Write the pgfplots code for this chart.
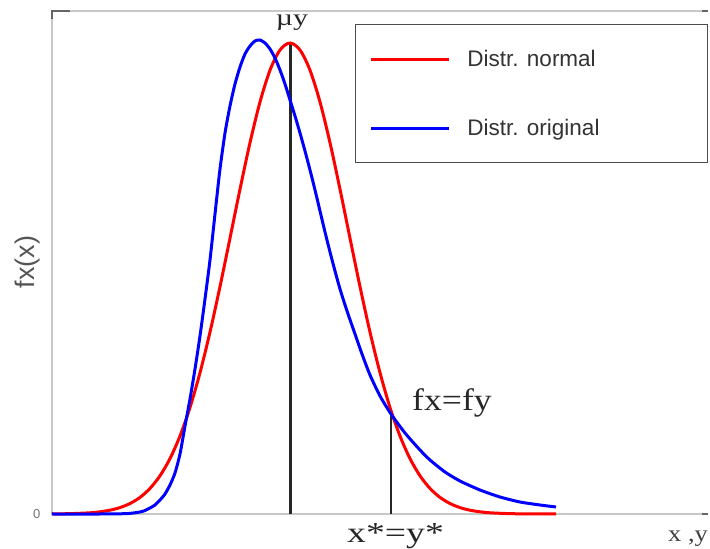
\documentclass[border=0pt]{standalone}
\usepackage{pgfplots}
\pgfplotsset{compat=1.18}
\usepackage{fontspec}
\setmainfont{Liberation Serif}
\newfontfamily\arial{Liberation Sans}
\definecolor{axgray}{HTML}{C8C8C8}
\definecolor{txtgray}{HTML}{555555}
\begin{document}
\begin{tikzpicture}[x=1pt,y=1pt]
\useasboundingbox (0,0) rectangle (710,549);
\begin{axis}[
  at={(52,35)}, anchor=south west,
  scale only axis, width=656pt, height=503pt,
  xmin=52, xmax=708, ymin=0, ymax=503,
  axis line style={draw=none},
  xtick=\empty, ytick={0}, major tick length=0pt,
  /pgf/number format/assume math mode=true,
  yticklabel style={font=\arial\fontsize{13}{13}\selectfont, text=black!55, xshift=-8pt},
  clip=false,
  legend style={at={(axis cs:708,490)}, anchor=north east,
    draw=black!70, line width=1.2pt, fill=white,
    font=\arial\fontsize{22.5}{22.5}\selectfont, text=black!80,
    inner xsep=14pt, inner ysep=23pt, row sep=46pt, column sep=17pt,
    nodes={inner sep=0pt, text height=19pt, text depth=4pt}},
  legend cell align=left,
  legend image code/.code={\draw[#1, line width=3pt] (0pt,0pt) -- (78pt,0pt);},
]
% axis frame lines (left, top, bottom)
\draw[axgray, line width=2pt] (axis cs:708,503) -- (axis cs:52,503) -- (axis cs:52,0) -- (axis cs:708,0);
\draw[black!60, line width=2pt] (axis cs:52,495) -- (axis cs:52,503) -- (axis cs:70,503);
\draw[black!60, line width=2pt] (axis cs:702,503) -- (axis cs:708,503);
\draw[black!60, line width=2pt] (axis cs:702,0) -- (axis cs:708,0);

% vertical reference lines
\addplot[black!85, line width=3pt, forget plot] coordinates {(290,0) (290,471)};
\addplot[black!85, line width=1.2pt, forget plot] coordinates {(391,0) (391,100)};

% normal distribution
\addplot[red, line width=3pt, smooth] coordinates {
(52,0.1) (70,0.35) (90,1.2) (100,2.2) (110,3.8) (120,6.4) (130,10.5) (140,16.6)
(150,25.6) (160,38.2) (170,55.4) (180,78.0) (190,106.5) (200,141.3) (210,181.9)
(220,227.4) (230,275.8) (240,324.8) (250,371.3) (260,412.0) (270,443.8) (280,464.0)
(290,471) (300,464.0) (310,443.8) (320,412.0) (330,371.3) (340,324.8) (350,275.8)
(360,227.4) (370,181.9) (380,141.3) (390,106.5) (400,78.0) (410,55.4) (420,38.2)
(430,25.6) (440,16.6) (450,10.5) (460,6.4) (470,3.8) (480,2.2) (490,1.2) (510,0.35)
(530,0.1) (556,0.0)};
\addlegendentry{\makebox[226pt][l]{Distr. normal}}

% original distribution
\addplot[blue, line width=3pt, smooth, tension=0.4] coordinates {
(52,0) (100,0) (120,0.2) (130,0.6) (140,2) (145,3.5) (150,6) (155,9) (160,14)
(165,20) (170,29) (175,41) (180,60) (185,88) (190,115) (195,145) (200,178)
(205,215) (210,254) (215,300) (220,345) (225,381) (230,408) (235,430) (240,447)
(245,460) (250,468) (255,473) (260,474) (265,471) (270,465) (275,456) (280,444)
(285,430) (290,414) (295,398) (300,381) (305,363) (310,344) (315,324) (320,303)
(325,282) (330,262) (335,243) (340,225) (347,203) (355,180) (362,160) (370,139)
(380,118) (391,100) (405,81) (420,64) (430,54) (445,42) (460,33) (480,24)
(500,17) (520,12) (540,9) (556,7)};
\addlegendentry{\makebox[226pt][l]{Distr. original}}

% labels
\node[anchor=base, inner sep=0pt, text=black!85] at (axis cs:292,488)
  {\fontsize{23}{23}\selectfont\scalebox{1.3}[1]{µy}};
\node[anchor=base west, inner sep=0pt, text=black!85] at (axis cs:412,103)
  {\fontsize{31}{31}\selectfont\scalebox{1.15}[1]{fx=fy}};
\node[anchor=base west, inner sep=0pt, text=black!85] at (axis cs:347,-29)
  {\fontsize{29}{29}\selectfont\scalebox{1.3}[1]{x*=y*}};
\node[anchor=base west, inner sep=0pt, text=black!75] at (axis cs:668,-28)
  {\fontsize{23}{23}\selectfont\scalebox{1.15}[1]{x ,y}};
\node[rotate=90, inner sep=0pt, text=txtgray] at (axis cs:28,252)
  {\arial\fontsize{27}{27}\selectfont fx(x)};
\end{axis}
\end{tikzpicture}
\end{document}
